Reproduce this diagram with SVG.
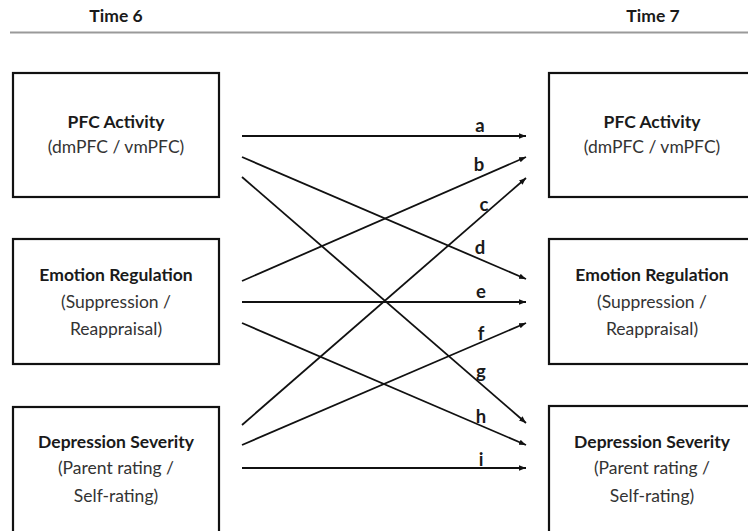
<svg xmlns="http://www.w3.org/2000/svg" width="748" height="531" viewBox="0 0 748 531">
<style>
.box{fill:#fff;stroke:#111;stroke-width:2.2}
.t{font-family:Lato,"Open Sans","Liberation Sans",sans-serif;font-size:17.5px;text-anchor:middle}
.b{font-weight:bold;fill:#1a1a1a}
.r{fill:#333}
.lab{font-family:Lato,"Open Sans","Liberation Sans",sans-serif;font-size:18.5px;font-weight:bold;fill:#1a1a1a;text-anchor:middle}
.c{stroke:#111;stroke-width:1.8;fill:none;marker-end:url(#ah)}
</style>
<defs>
<marker id="ah" viewBox="0 0 10 10" refX="10" refY="5" markerWidth="7" markerHeight="7" markerUnits="userSpaceOnUse" orient="auto">
<path d="M0,1 L10,5 L0,9 z" fill="#111"/>
</marker>
</defs>
<rect width="748" height="531" fill="#fff"/>
<g id="header">
<text class="t b" x="116" y="22">Time 6</text>
<text class="t b" x="653" y="22">Time 7</text>
<line x1="10" y1="32.5" x2="748" y2="32.5" stroke="#9a9a9a" stroke-width="2"/>
</g>
<g id="pfc6">
<rect class="box" x="13" y="73" width="206" height="124"/>
<text class="t b" x="116" y="128">PFC Activity</text>
<text class="t r" x="116" y="153">(dmPFC / vmPFC)</text>
</g>
<g id="er6">
<rect class="box" x="13" y="239" width="206" height="125"/>
<text class="t b" x="116" y="281">Emotion Regulation</text>
<text class="t r" x="116" y="308">(Suppression /</text>
<text class="t r" x="116" y="335">Reappraisal)</text>
</g>
<g id="ds6">
<rect class="box" x="13" y="407" width="206" height="140"/>
<text class="t b" x="116" y="448">Depression Severity</text>
<text class="t r" x="116" y="474">(Parent rating /</text>
<text class="t r" x="116" y="502">Self-rating)</text>
</g>
<g id="pfc7">
<rect class="box" x="549" y="73" width="206" height="124"/>
<text class="t b" x="652" y="128">PFC Activity</text>
<text class="t r" x="652" y="153">(dmPFC / vmPFC)</text>
</g>
<g id="er7">
<rect class="box" x="549" y="239" width="206" height="125"/>
<text class="t b" x="652" y="281">Emotion Regulation</text>
<text class="t r" x="652" y="308">(Suppression /</text>
<text class="t r" x="652" y="335">Reappraisal)</text>
</g>
<g id="ds7">
<rect class="box" x="549" y="406" width="206" height="140"/>
<text class="t b" x="652" y="448">Depression Severity</text>
<text class="t r" x="652" y="474">(Parent rating /</text>
<text class="t r" x="652" y="502">Self-rating)</text>
</g>
<g id="connectors">
<line class="c" x1="242" y1="136" x2="526" y2="136"/>
<line class="c" x1="242" y1="157" x2="526" y2="279"/>
<line class="c" x1="242" y1="177" x2="526" y2="423"/>
<line class="c" x1="242" y1="281" x2="526" y2="157"/>
<line class="c" x1="242" y1="302" x2="526" y2="302"/>
<line class="c" x1="242" y1="323" x2="526" y2="445"/>
<line class="c" x1="242" y1="425" x2="526" y2="178"/>
<line class="c" x1="242" y1="445" x2="526" y2="323"/>
<line class="c" x1="242" y1="468" x2="526" y2="468"/>
<text class="lab" x="480" y="132">a</text>
<text class="lab" x="479" y="171">b</text>
<text class="lab" x="484" y="211">c</text>
<text class="lab" x="480" y="254">d</text>
<text class="lab" x="481" y="298">e</text>
<text class="lab" x="481" y="340">f</text>
<text class="lab" x="481" y="378">g</text>
<text class="lab" x="481" y="423">h</text>
<text class="lab" x="481" y="466">i</text>
</g>
</svg>
